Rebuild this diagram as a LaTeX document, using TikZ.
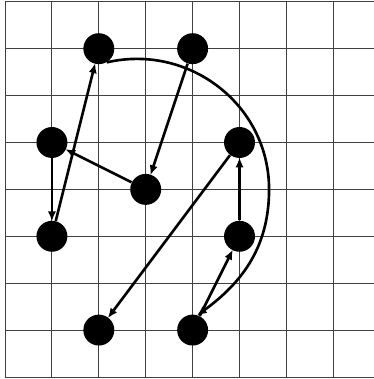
\documentclass[tikz,border=0pt]{standalone}
\usetikzlibrary{arrows.meta}
\tikzset{
  dot/.style={circle,fill=black,draw=none,minimum size=0.66cm,inner sep=0pt},
  gridline/.style={draw=black!75,line width=0.55pt},
  conn/.style={line width=1.6pt,-{Latex[length=6pt,width=5pt]},shorten >=-0.5pt}
}
\begin{document}
\begin{tikzpicture}
\useasboundingbox (-0.107,-0.043) rectangle (7.867,8.038);
\clip (-0.107,-0.043) rectangle (7.867,8.038);
\fill[white] (-0.107,-0.043) rectangle (7.867,8.038);
\foreach \x in {0,...,7} \draw[gridline] (\x,0) -- (\x,8);
\foreach \y in {0,...,8} \draw[gridline] (0,\y) -- (7.9,\y);
\node[dot] (A) at (2,7) {};
\node[dot] (B) at (4,7) {};
\node[dot] (C) at (1,5) {};
\node[dot] (D) at (3,4) {};
\node[dot] (E) at (5,5) {};
\node[dot] (F) at (1,3) {};
\node[dot] (G) at (5,3) {};
\node[dot] (H) at (2,1) {};
\node[dot] (I) at (4,1) {};
\coordinate (R) at (5.63,4.0);
\draw[conn] (F) -- (A);
\draw[conn] (B) -- (D);
\draw[conn] (D) -- (C);
\draw[conn] (C) -- (F);
\draw[conn] (E) -- (H);
\draw[conn] (G) -- (E);
\draw[conn] (I) -- (G);
\draw[conn] (A.-60) to[out=13,in=90,looseness=1.05] (R) to[out=-90,in=36,looseness=1] (I.72);
\end{tikzpicture}
\end{document}
